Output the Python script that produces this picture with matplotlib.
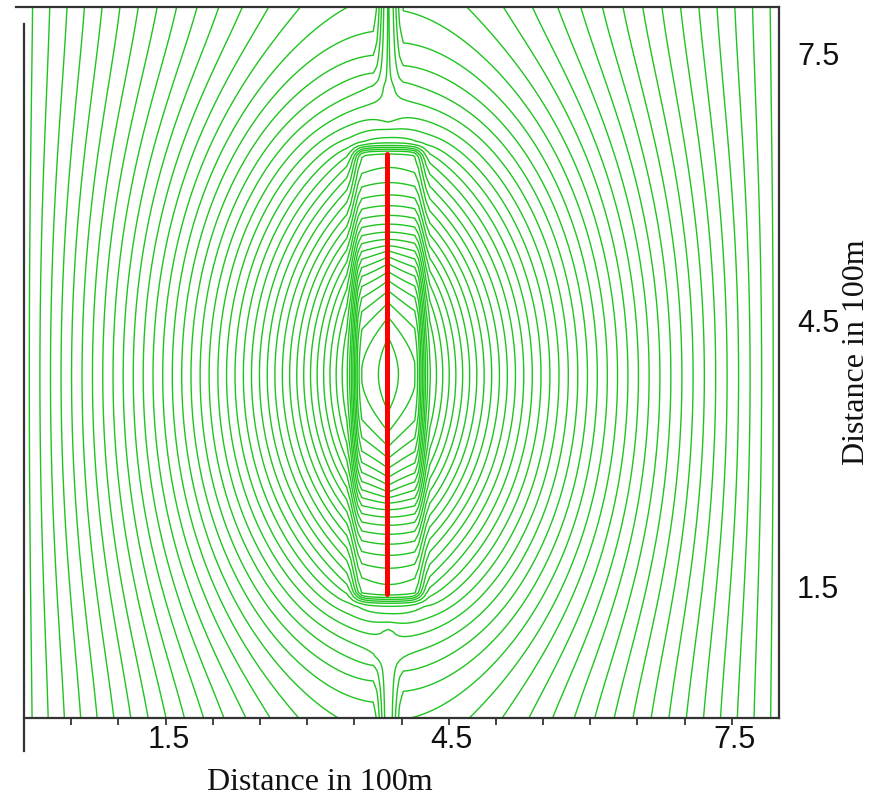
import numpy as np
import matplotlib
matplotlib.use("Agg")
import matplotlib.pyplot as plt
from matplotlib.lines import Line2D

# ---------------- data ----------------
x_limits = [0.0, 8.0]
y_limits = [0.05, 8.05]
x_ticks = [0.0, 0.5, 1.0, 1.5, 2.0, 2.5, 3.0, 3.5, 4.0, 4.5, 5.0, 5.5, 6.0, 6.5, 7.0, 7.5]
x_label_values = [1.5, 4.5, 7.5]
x_label_texts = ["1.5", "4.5", "7.5"]
y_label_values = [1.5, 4.5, 7.5]
y_label_texts = ["1.5", "4.5", "7.5"]
axis_title = "Distance in 100m"

fracture_x = [3.85, 3.85]          # red fracture trace
fracture_y = [1.45, 6.40]

# field model parameters (steady pressure around a stimulated fracture zone)
zone_half_width = 0.30             # stimulated zone half width
zone_perm = 3.5                    # permeability of the zone
skin_width = 0.12                  # low-permeability skin around the zone
skin_perm = 0.25
source_half_length = 1.4           # injection interval around fracture centre
well_gap = [1.05, 6.80]            # conductive wellbore outside this interval
well_perm = 800.0
well_open_length = 0.35            # unskinned wellbore length next to the gap
well_skin_width = 0.12             # skin around the rest of the wellbore
well_skin_perm = 0.012
contour_spacing = 0.1335           # far-field spacing of isobars (x units)

# ---------------- numerical field (finite volumes + PCG) ----------------
h = 0.04
dom_y = (-1.0, 9.0)
nx = int(round((x_limits[1] - x_limits[0]) / h))
ny = int(round((dom_y[1] - dom_y[0]) / h))
xc = x_limits[0] + (np.arange(nx) + 0.5) * h
yc = dom_y[0] + (np.arange(ny) + 0.5) * h
X, Y = np.meshgrid(xc, yc)
xf = fracture_x[0]
y1, y2 = fracture_y
ym = 0.5 * (y1 + y2)
col = np.argmin(np.abs(xc - xf))
xw = xc[col]

K = np.ones((ny, nx))
ax_d = np.abs(X - xf)
zone = (ax_d < zone_half_width) & (Y > y1) & (Y < y2)
ring = (ax_d < zone_half_width + skin_width) & (Y > y1 - skin_width) & (Y < y2 + skin_width) & ~zone
K[ring] = skin_perm
K[zone] = zone_perm
well_rows = (yc < well_gap[0]) | (yc > well_gap[1])
skin_rows = (yc < well_gap[0] - well_open_length) | (yc > well_gap[1] + well_open_length)
wdist = np.abs(X - xw)
wskin = (wdist > h / 2) & (wdist < h / 2 + well_skin_width) & skin_rows[:, None]
K[wskin] = well_skin_perm
K[well_rows, col] = well_perm

Tx = 2 * K[:, :-1] * K[:, 1:] / (K[:, :-1] + K[:, 1:])
Ty = 2 * K[:-1, :] * K[1:, :] / (K[:-1, :] + K[1:, :])
diag = np.zeros_like(K)
diag[:, :-1] += Tx
diag[:, 1:] += Tx
diag[:-1, :] += Ty
diag[1:, :] += Ty
diag[:, 0] += 2 * K[:, 0]
diag[:, -1] += 2 * K[:, -1]

b = np.zeros_like(K)
src_rows = np.abs(yc - ym) < source_half_length
b[src_rows, col] = 1.0 / src_rows.sum()


def apply_A(p):
    r = diag * p
    r[:, :-1] -= Tx * p[:, 1:]
    r[:, 1:] -= Tx * p[:, :-1]
    r[:-1, :] -= Ty * p[1:, :]
    r[1:, :] -= Ty * p[:-1, :]
    return r


p = np.zeros_like(K)
r = b.copy()
z = r / diag
d = z.copy()
rz = np.sum(r * z)
bn = np.linalg.norm(b)
for it in range(40000):
    Ad = apply_A(d)
    alpha = rz / np.sum(d * Ad)
    p += alpha * d
    r -= alpha * Ad
    if np.linalg.norm(r) < 1e-10 * bn:
        break
    z = r / diag
    rz_new = np.sum(r * z)
    d = z + (rz_new / rz) * d
    rz = rz_new

win = (yc > y_limits[0]) & (yc < y_limits[1])
G = np.mean(p[win, 0]) / (h / 2)
dp = G * contour_spacing
levels = dp * (np.arange(0, int(p.max() / dp) + 2) + 0.5)

# ---------------- figure ----------------
W, H = 883, 803
fig = plt.figure(figsize=(W / 100, H / 100), dpi=100)
L, R, T, B = 24, 779, 8, 719
ax = fig.add_axes([L / W, 1 - B / H, (R - L) / W, (B - T) / H])
ax.contour(X, Y, p, levels=levels, colors="#1fc41f", linewidths=1.0)
ax.plot(fracture_x, fracture_y, color="#ff0000", lw=3.6, solid_capstyle="round")
ax.set_xlim(*x_limits)
ax.set_ylim(*y_limits)

spine_c = "#333333"
for s in ["left", "top"]:
    ax.spines[s].set_visible(False)
for s in ["right", "bottom"]:
    ax.spines[s].set_color(spine_c)
    ax.spines[s].set_linewidth(1.6)
fig.add_artist(Line2D([16 / W, R / W], [1 - T / H, 1 - T / H], color=spine_c, lw=1.6))
fig.add_artist(Line2D([L / W, L / W], [1 - 25 / H, 1 - 752 / H], color=spine_c, lw=1.6))

ax.set_xticks(x_ticks)
ax.set_xticklabels([])
ax.tick_params(axis="x", direction="out", length=5, width=1.3, color=spine_c)
ax.set_yticks([])

num_font = dict(family=["Liberation Sans Narrow", "Liberation Sans"], size=22, color="#111111")
for v, t in zip(x_label_values, x_label_texts):
    ax.text(v + 0.03, -0.030, t, transform=ax.get_xaxis_transform(),
            ha="center", va="center", **num_font)
for v, t in zip(y_label_values, y_label_texts):
    ax.text(1.024, v, t, transform=ax.get_yaxis_transform(),
            ha="left", va="center", **num_font)

title_font = dict(family=["Liberation Serif"], size=23, color="#111111")
fig.text(320 / W, 1 - 783 / H, axis_title, ha="center", va="center", **title_font)
fig.text(857 / W, 1 - 352 / H, axis_title, ha="center", va="center", rotation=90, **title_font)

fig.savefig("out.png", dpi=100)
